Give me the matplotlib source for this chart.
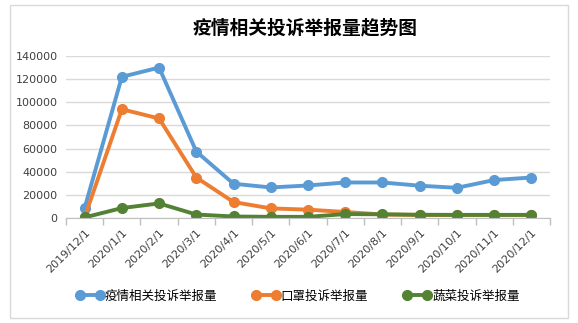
import matplotlib
matplotlib.use("Agg")
import matplotlib.pyplot as plt
from matplotlib.patches import Rectangle
import numpy as np

plt.rcParams['font.family'] = ['Noto Sans CJK SC', 'DejaVu Sans']

categories = ["2019/12/1", "2020/1/1", "2020/2/1", "2020/3/1", "2020/4/1", "2020/5/1",
              "2020/6/1", "2020/7/1", "2020/8/1", "2020/9/1", "2020/10/1", "2020/11/1", "2020/12/1"]
epidemic = [8600, 122000, 130000, 57400, 29600, 26400, 28100, 30700, 30700, 27900, 26100, 32800, 35000]
masks = [500, 94000, 86000, 35000, 13800, 8300, 7200, 5200, 3000, 2600, 2500, 2500, 2500]
vegetables = [500, 8600, 12600, 3000, 1300, 1000, 1000, 3400, 3200, 2800, 2700, 2700, 2700]
series_names = ["疫情相关投诉举报量", "口罩投诉举报量", "蔬菜投诉举报量"]
title = "疫情相关投诉举报量趋势图"
yticks = [0, 20000, 40000, 60000, 80000, 100000, 120000, 140000]

colors = ["#5B9BD5", "#ED7D31", "#548235"]

W, H = 578, 323
fig = plt.figure(figsize=(W / 100, H / 100), dpi=100)
fig.patches.append(Rectangle((10 / W, 5 / H), 558 / W, 313 / H, transform=fig.transFigure,
                             fill=False, edgecolor="#d9d9d9", linewidth=1.0))

ax = fig.add_axes([66 / W, 1 - 218 / H, (550 - 66) / W, (218 - 56) / H])
x = np.arange(len(categories))
for vals, c, name in zip([epidemic, masks, vegetables], colors, series_names):
    ax.plot(x, vals, color=c, linewidth=2.8, marker='o', markersize=7, label=name,
            solid_capstyle='round', solid_joinstyle='round')

ax.set_xlim(-0.5, len(categories) - 0.5)
ax.set_ylim(0, 140000)
ax.set_yticks(yticks)
ax.set_yticklabels([str(v) for v in yticks], fontsize=8, color="#404040", family="DejaVu Sans")
ax.tick_params(axis='y', length=0, pad=6)
ax.grid(axis='y', color="#d9d9d9", linewidth=1)
ax.set_axisbelow(True)

ax.set_xticks(x)
ax.set_xticklabels(categories, rotation=45, ha='right', rotation_mode='anchor',
                   fontsize=8, color="#404040", family="DejaVu Sans")
ax.tick_params(axis='x', which='major', length=0, pad=7)
ax.set_xticks(np.arange(-0.5, len(categories), 1), minor=True)
ax.tick_params(axis='x', which='minor', length=5, color="#bfbfbf", width=1)

for s in ['top', 'right', 'left']:
    ax.spines[s].set_visible(False)
ax.spines['bottom'].set_color("#bfbfbf")

fig.text(0.527, 1 - 27.5 / H, title, ha='center', va='center', fontsize=13.5, fontweight='bold',
         color="#000000")

fig.legend(loc='center', bbox_to_anchor=(0.515, 1 - 296 / H), ncol=3, frameon=False,
           numpoints=2, handlelength=2.2, columnspacing=2.8, handletextpad=0.1,
           prop={'size': 9})

fig.savefig("out.png", dpi=100)
